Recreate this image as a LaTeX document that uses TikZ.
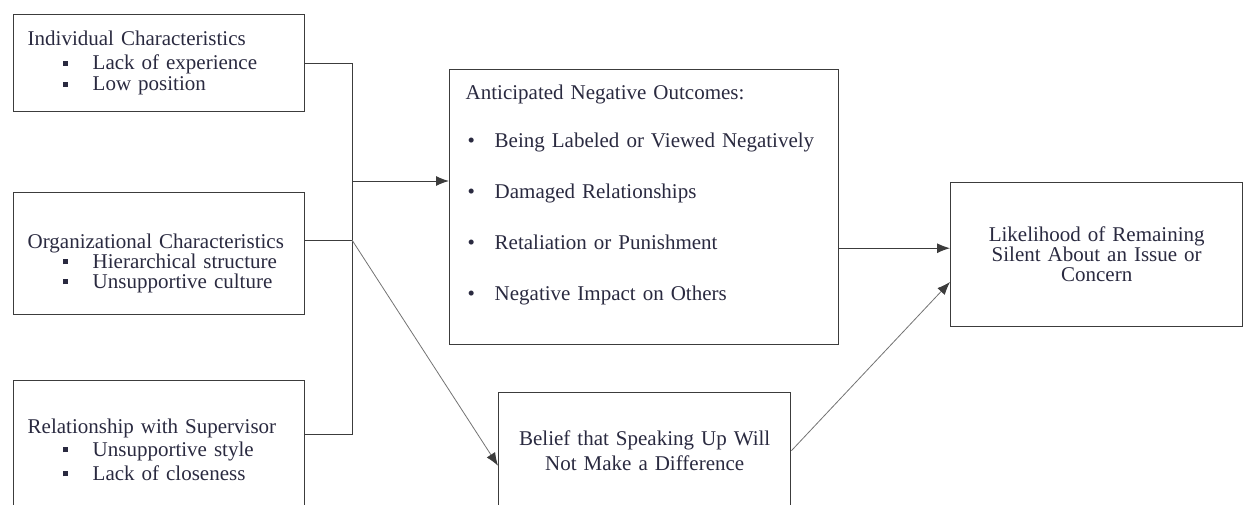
\documentclass[tikz,border=0pt]{standalone}
\usepackage{fontspec}
\setmainfont{Liberation Serif}
\usepackage{tikz}
\usetikzlibrary{arrows.meta,positioning,calc}
\usepackage{xcolor}
\definecolor{inkc}{RGB}{42,42,64}
\definecolor{edgec}{RGB}{60,60,60}
\definecolor{diagc}{RGB}{115,115,115}
\newcommand{\sqitem}[1]{\hspace*{35pt}\makebox[30pt][l]{\rule[4pt]{5pt}{5pt}}#1}
\newcommand{\dotitem}[1]{\hspace*{2pt}\makebox[27pt][l]{\textbullet}#1}

\begin{document}
\begin{tikzpicture}[
    x=1pt, y=-1pt,
    every node/.style={font=\fontsize{21}{21}\selectfont, text=inkc},
    box/.style={rectangle, draw=edgec, line width=1.4pt, anchor=north west, inner xsep=14pt, inner ysep=0pt, align=left},
    link/.style={draw=edgec, line width=1pt},
    arr/.style={link, -{Latex[length=13pt,width=10pt,color=edgec]}}
]
    \useasboundingbox (0,0) rectangle (1247,504);

    % the three sources on the left
    \node (indiv) [box, text width=263pt, minimum height=97pt] at (13,14)
        {Individual Characteristics\\[3pt]
         \sqitem{Lack of experience}\\
         \sqitem{Low position}};
    \node (org) [box, text width=263pt, minimum height=122pt] at (13,192)
        {\rule{0pt}{1pt}\\[12pt]
         Organizational Characteristics\\[-1pt]
         \sqitem{Hierarchical structure}\\[-1pt]
         \sqitem{Unsupportive culture}};
    \node (rel) [box, text width=263pt, minimum height=138pt] at (13,380)
        {Relationship with Supervisor\\[2pt]
         \sqitem{Unsupportive style}\\[3pt]
         \sqitem{Lack of closeness}};

    % the two mediators
    \node (anti) [box, inner xsep=16pt, text width=357pt, minimum height=275pt] at (449,69)
        {Anticipated Negative Outcomes:\\[27pt]
         \dotitem{Being Labeled or Viewed Negatively}\\[30pt]
         \dotitem{Damaged Relationships}\\[30pt]
         \dotitem{Retaliation or Punishment}\\[30pt]
         \dotitem{Negative Impact on Others}\\[8pt]
         \mbox{}};
    \node (belief) [box, align=center, inner xsep=16pt, text width=260pt, minimum height=116pt] at (498,392)
        {Belief that Speaking Up Will\\[4pt] Not Make a Difference};

    % the outcome
    \node (likely) [box, align=center, inner xsep=16pt, text width=260pt, minimum height=144pt] at (950,182)
        {Likelihood of Remaining\\[-1pt] Silent About an Issue or\\[-1pt] Concern};

    \coordinate (hub) at (352,181);
    \coordinate (orgj) at ([yshift=-48pt]org.north east);
    \coordinate (relj) at ([yshift=-54pt]rel.north east);

    \draw[link] (indiv.east) -- (indiv.east -| hub) -- (relj -| hub) -- (relj);
    \draw[link] (orgj) -- (orgj -| hub);
    \draw[arr] (hub) -- (hub -| anti.west);
    \draw[arr, draw=diagc, line width=0.8pt] (orgj -| hub) -- ([yshift=-15pt]belief.west);
    \draw[arr] ([yshift=-41pt]anti.east) -- ([yshift=-41pt]anti.east -| likely.west);
    \draw[arr, draw=diagc, line width=0.8pt] (belief.east) -- ([yshift=-100pt]likely.north west);
\end{tikzpicture}
\end{document}
